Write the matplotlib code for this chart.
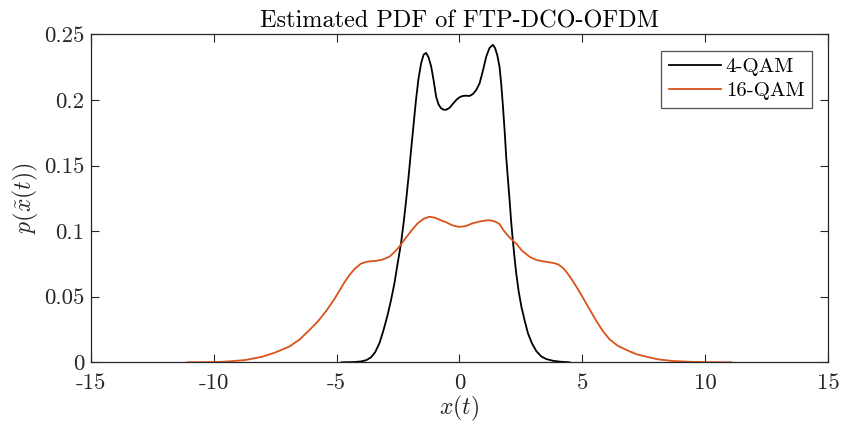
import numpy as np
import matplotlib
matplotlib.use("Agg")
import matplotlib.pyplot as plt

plt.rcParams['font.family'] = 'serif'
plt.rcParams['font.serif'] = ['cmr10', 'DejaVu Serif']
plt.rcParams['mathtext.fontset'] = 'cm'
plt.rcParams['axes.unicode_minus'] = False

# 4-QAM estimated pdf
x_qam4 = [-4.8, -4.3, -4.0, -3.8, -3.6, -3.43, -3.26, -3.1, -2.92, -2.78, -2.65,
          -2.52, -2.38, -2.27, -2.17, -2.07, -1.97, -1.87, -1.77, -1.67, -1.56,
          -1.46, -1.36, -1.26, -1.15, -1.05, -0.95, -0.85, -0.75, -0.64, -0.54,
          -0.4, -0.27, -0.13, 0.0, 0.13, 0.27, 0.41, 0.55, 0.68, 0.82, 0.95,
          1.09, 1.22, 1.36, 1.45, 1.54, 1.63, 1.70, 1.77, 1.84, 1.9, 1.97, 2.04,
          2.1, 2.17, 2.24, 2.31, 2.41, 2.52, 2.65, 2.79, 2.95, 3.13, 3.33, 3.53,
          3.8, 4.08, 4.48]
y_qam4 = [0.0, 0.0002, 0.0007, 0.0016, 0.0038, 0.0078, 0.0145, 0.024, 0.0365, 0.048, 0.060,
          0.075, 0.0907, 0.107, 0.1237, 0.142, 0.1618, 0.181, 0.200, 0.216, 0.228,
          0.2345, 0.2358, 0.2325, 0.2253, 0.2145, 0.2024, 0.1965, 0.1936, 0.1925, 0.1925,
          0.194, 0.197, 0.200, 0.202, 0.203, 0.2032, 0.203, 0.2045, 0.2075, 0.2127, 0.222,
          0.233, 0.2395, 0.242, 0.2395, 0.234, 0.2253, 0.212, 0.195, 0.176, 0.157, 0.140, 0.1237,
          0.108, 0.0932, 0.080, 0.0678, 0.054, 0.0424, 0.032, 0.022, 0.0145, 0.0085, 0.0045, 0.0025,
          0.0012, 0.0005, 0.0]

# 16-QAM estimated pdf
x_qam16 = [-11.07, -10.4, -9.8, -9.38, -8.7, -8.02, -7.5, -6.93, -6.5, -6.11, -5.75,
           -5.43, -5.1, -4.89, -4.68, -4.48, -4.25, -4.01, -3.8, -3.6, -3.4, -3.15,
           -2.85, -2.65, -2.45, -2.2, -1.95, -1.7, -1.45, -1.22, -1.0, -0.75, -0.54,
           -0.3, -0.03, 0.25, 0.54, 0.82, 1.02, 1.22, 1.45, 1.63, 1.77, 1.95, 2.13,
           2.31, 2.55, 2.85, 3.13, 3.45, 3.8, 4.0, 4.2, 4.35, 4.55, 4.76, 4.97, 5.17,
           5.37, 5.57, 5.85, 6.11, 6.45, 6.8, 7.2, 7.6, 8.1, 8.69, 9.4, 10.05, 11.07]
y_qam16 = [0.0, 0.0001, 0.0003, 0.0007, 0.0018, 0.0043, 0.0075, 0.012, 0.0175, 0.0246, 0.0315,
           0.039, 0.048, 0.0545, 0.061, 0.0665, 0.0715, 0.0752, 0.0765, 0.0771, 0.0773, 0.0782,
           0.0805, 0.084, 0.0881, 0.0945, 0.1005, 0.106, 0.1095, 0.111, 0.1102, 0.1082, 0.1067,
           0.1045, 0.1032, 0.1038, 0.106, 0.1073, 0.108, 0.1083, 0.1073, 0.1054, 0.1012, 0.097, 0.0935,
           0.0905, 0.085, 0.0805, 0.078, 0.0768, 0.0758, 0.0748, 0.0722, 0.069, 0.0638, 0.0576, 0.051,
           0.0445, 0.038, 0.0315, 0.0235, 0.0175, 0.0125, 0.0094, 0.0062, 0.0043, 0.0022, 0.001, 0.0004,
           0.0001, 0.0]

xticks = [-15, -10, -5, 0, 5, 10, 15]
xtick_labels = ['-15', '-10', '-5', '0', '5', '10', '15']
yticks = [0, 0.05, 0.1, 0.15, 0.2, 0.25]
ytick_labels = ['0', '0.05', '0.1', '0.15', '0.2', '0.25']

axcol = '#262626'
fig = plt.figure(figsize=(8.41, 4.32), dpi=100)
ax = fig.add_axes([0.1082, 0.1613, 0.8763, 0.7593])

ax.plot(x_qam4, y_qam4, color='black', lw=1.3, label='4-QAM', solid_joinstyle='round')
ax.plot(x_qam16, y_qam16, color='#D95319', lw=1.3, label='16-QAM', solid_joinstyle='round')

ax.set_xlim(-15, 15)
ax.set_ylim(0, 0.25)
ax.set_xticks(xticks)
ax.set_xticklabels(xtick_labels)
ax.set_yticks(yticks)
ax.set_yticklabels(ytick_labels)
ax.tick_params(direction='in', top=True, right=True, length=6, width=0.8,
               colors=axcol, labelsize=16.5, pad=5)
ax.tick_params(axis='x', pad=8)
for sp in ax.spines.values():
    sp.set_color(axcol)
    sp.set_linewidth(0.9)

ax.set_title('Estimated PDF of FTP-DCO-OFDM', fontsize=17.5, color='black', pad=5)
ax.set_xlabel(r'$x(t)$', fontsize=17, color=axcol, labelpad=1)
ax.set_ylabel(r'$p\left(\tilde{x}(t)\right)$', fontsize=17, color=axcol, labelpad=3)

leg = ax.legend(loc='upper right', fontsize=15, frameon=True, fancybox=False,
                edgecolor=axcol, handlelength=2.5, borderpad=0.35, labelspacing=0.25,
                handletextpad=0.25, borderaxespad=0.78)
leg.get_frame().set_linewidth(0.9)

fig.savefig('out.png', dpi=100)
